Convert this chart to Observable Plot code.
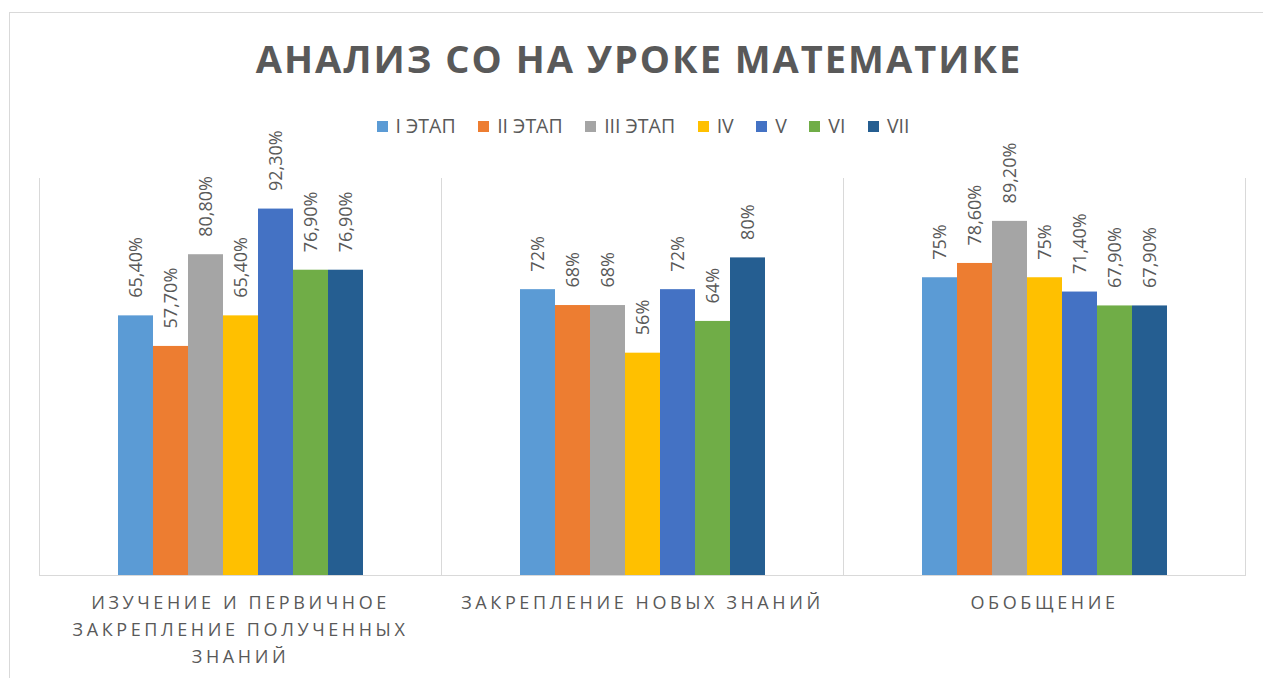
<!DOCTYPE html>
<html><head><meta charset="utf-8">
<script src="https://cdn.jsdelivr.net/npm/d3@7"></script>
<script src="https://cdn.jsdelivr.net/npm/@observablehq/plot@0.6"></script>
<style>
body{margin:0;background:#fff;font-family:'Open Sans',sans-serif;}
#wrap{position:relative;width:1263px;height:678px;overflow:hidden;}
#border{position:absolute;left:9px;top:12px;width:1300px;height:700px;border-left:1.5px solid #d9d9d9;border-top:1.5px solid #d9d9d9;pointer-events:none;}
#title{position:absolute;left:0;width:1278px;top:32px;text-align:center;font-size:38px;font-weight:700;letter-spacing:2px;color:#595959;line-height:52px;}
#legend{position:absolute;left:0;width:1286px;top:112px;display:flex;justify-content:center;gap:22.5px;font-size:19.5px;color:#595959;line-height:28px;}
#legend .item{display:flex;align-items:center;}
#legend .sw{width:11px;height:11px;margin-right:8px;}
#chart{position:absolute;left:0;top:0;}
.cat text{letter-spacing:3.6px;}
</style>
</head><body>
<div id="wrap">
  <div id="chart"></div>
  <div id="title"></div>
  <div id="legend"></div>
  <div id="border"></div>
</div>
<script>
const titleText = "АНАЛИЗ СО НА УРОКЕ МАТЕМАТИКЕ";
const categories = ["ИЗУЧЕНИЕ И ПЕРВИЧНОЕ ЗАКРЕПЛЕНИЕ ПОЛУЧЕННЫХ ЗНАНИЙ", "ЗАКРЕПЛЕНИЕ НОВЫХ ЗНАНИЙ", "ОБОБЩЕНИЕ"];
const categoryLabels = ["ИЗУЧЕНИЕ И ПЕРВИЧНОЕ\nЗАКРЕПЛЕНИЕ ПОЛУЧЕННЫХ\nЗНАНИЙ", "ЗАКРЕПЛЕНИЕ НОВЫХ ЗНАНИЙ", "ОБОБЩЕНИЕ"];
const series = ["I ЭТАП", "II ЭТАП", "III ЭТАП", "IV", "V", "VI", "VII"];
const colors = ["#5B9BD5", "#ED7D31", "#A5A5A5", "#FFC000", "#4472C4", "#70AD47", "#255E91"];
const stageI   = [65.4, 72, 75];
const stageII  = [57.7, 68, 78.6];
const stageIII = [80.8, 68, 89.2];
const stageIV  = [65.4, 56, 75];
const stageV   = [92.3, 72, 71.4];
const stageVI  = [76.9, 64, 67.9];
const stageVII = [76.9, 80, 67.9];
const seriesValues = [stageI, stageII, stageIII, stageIV, stageV, stageVI, stageVII];

const data = [];
series.forEach((s, i) => categories.forEach((c, j) => data.push({category: c, series: s, value: seriesValues[i][j]})));

const fmt = v => (Number.isInteger(v) ? String(v) : v.toFixed(2).replace(".", ",")) + "%";

document.getElementById("title").textContent = titleText;
const legend = document.getElementById("legend");
series.forEach((s, i) => {
  const it = document.createElement("div"); it.className = "item";
  const sw = document.createElement("span"); sw.className = "sw"; sw.style.background = colors[i];
  const tx = document.createElement("span"); tx.textContent = s;
  it.appendChild(sw); it.appendChild(tx); legend.appendChild(it);
});

const chart = Plot.plot({
  width: 1263, height: 678,
  marginTop: 178, marginBottom: 103, marginLeft: 39, marginRight: 18,
  style: {background: "transparent", fontFamily: "'Open Sans', sans-serif", color: "#595959"},
  fx: {domain: categories, padding: 0, axis: null},
  x: {domain: series, paddingInner: 0, paddingOuter: 2.2, axis: null},
  y: {domain: [0, 100], axis: null},
  color: {domain: series, range: colors},
  marks: [
    Plot.frame({anchor: "left", stroke: "#d9d9d9"}),
    Plot.frame({anchor: "right", stroke: "#d9d9d9"}),
    Plot.barY(data, {fx: "category", x: "series", y: "value", fill: "series"}),
    Plot.frame({anchor: "bottom", stroke: "#d9d9d9"}),
    Plot.text(data, {fx: "category", x: "series", y: "value", text: d => fmt(d.value), rotate: -90, textAnchor: "start", dy: -18, fill: "#595959", fontSize: 18}),
    Plot.text(categories, {fx: d => d, text: (d, i) => categoryLabels[i], frameAnchor: "bottom", lineAnchor: "top", dy: 14, lineHeight: 1.5, fontSize: 18, fill: "#595959", className: "cat"})
  ]
});
document.getElementById("chart").appendChild(chart);
</script>
</body></html>
